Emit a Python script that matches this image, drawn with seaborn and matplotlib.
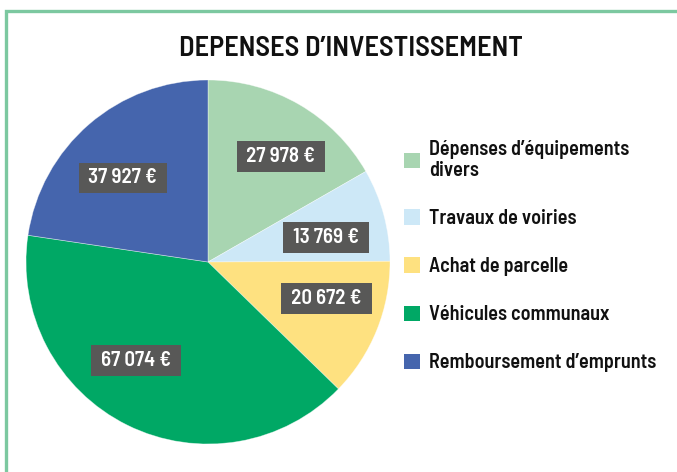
import matplotlib
matplotlib.use("Agg")
import matplotlib.pyplot as plt
import matplotlib.patches as mpatches
import seaborn as sns

categories = [
    "Dépenses d’équipements\ndivers",
    "Travaux de voiries",
    "Achat de parcelle",
    "Véhicules communaux",
    "Remboursement d’emprunts",
]
values = [27978, 13769, 20672, 67074, 37927]
colors = ["#a8d5b1", "#cde8f7", "#fee180", "#00a865", "#4565ad"]
title = "DEPENSES D’INVESTISSEMENT"

# small shifts of the value boxes from their default spot (pie units)
label_nudge = [(0.065, 0.0), (0.0, -0.04), (0.03, 0.05), (-0.10, 0.06), (-0.03, -0.045)]

sns.set_theme(style="white")
plt.rcParams["font.family"] = ["Barlow Semi Condensed", "Saira Condensed", "DejaVu Sans"]

fig = plt.figure(figsize=(6.77, 4.72), dpi=100)
W, H = 677, 472

# green frame around the figure, going past the right and bottom edges
frame = mpatches.Rectangle((6 / W, -0.1), 1.2, 1.1 - 10.5 / H, transform=fig.transFigure,
                           fill=False, edgecolor="#7cc8a0", linewidth=2.4)
fig.patches.append(frame)

fig.text(351 / W, 1 - 48 / H, title, ha="center", va="center",
         fontsize=20.5, fontweight="semibold", color="#111111")

r = 182
cx, cy = 208, 262
ax = fig.add_axes([(cx - r) / W, 1 - (cy + r) / H, 2 * r / W, 2 * r / H])


def fmt(pct):
    v = int(round(pct * sum(values) / 100.0))
    return " " + f"{v:,}".replace(",", " ") + " € "


wedges, texts, autotexts = ax.pie(
    values, colors=colors, startangle=90, counterclock=False,
    autopct=fmt, pctdistance=0.67, radius=1.0,
    wedgeprops=dict(linewidth=0.5, edgecolor=(1, 1, 1, 0.5)),
)
for t, (dx, dy) in zip(autotexts, label_nudge):
    x, y = t.get_position()
    t.set_position((x + dx, y + dy))
    t.set_color("white")
    t.set_fontsize(15)
    t.set_fontweight("semibold")
    t.set_bbox(dict(boxstyle="square,pad=0.28", facecolor="#585857", edgecolor="none"))
ax.set_xlim(-1, 1)
ax.set_ylim(-1, 1)
ax.set_aspect("equal")
ax.axis("off")

handles = [mpatches.Patch(facecolor=c, edgecolor="none") for c in colors]
leg = fig.legend(handles, categories, loc="upper left",
                 bbox_to_anchor=(386 / W, 1 - 122 / H), frameon=False,
                 fontsize=14.5, labelspacing=1.45, handlelength=0.8,
                 handleheight=0.8, handletextpad=0.45)
for t in leg.get_texts():
    t.set_color("#111111")
    t.set_fontweight("semibold")
    t.set_linespacing(1.1)

fig.savefig("out.png", dpi=100)
